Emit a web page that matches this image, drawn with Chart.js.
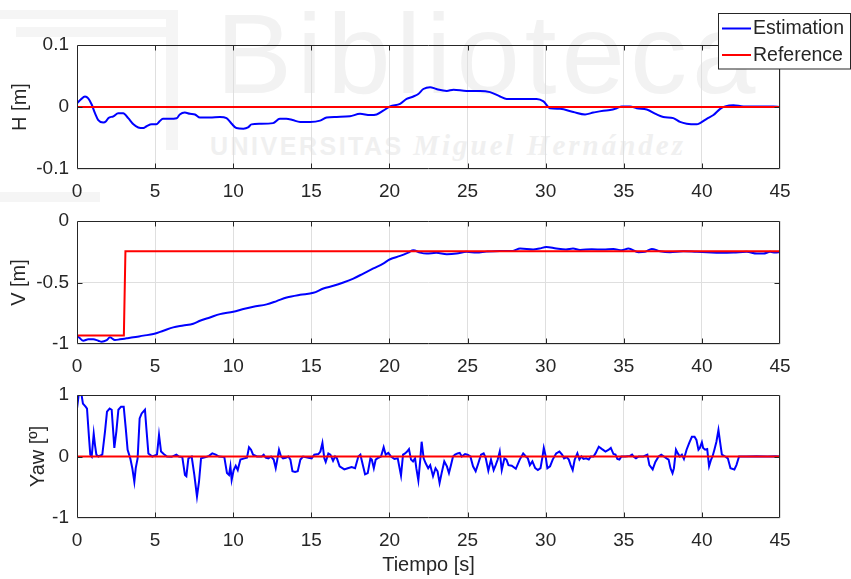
<!DOCTYPE html>
<html>
<head>
<meta charset="utf-8">
<script src="https://cdn.jsdelivr.net/npm/chart.js@4.4.1/dist/chart.umd.min.js"></script>
<style>
html,body{margin:0;padding:0;background:#fff;}
#wrap{position:relative;width:851px;height:579px;overflow:hidden;background:#fff;}
canvas{position:absolute;left:0;top:0;}
.wm{position:absolute;color:#f2f2f2;font-family:"Liberation Sans",Arial,sans-serif;white-space:nowrap;}
.bar{position:absolute;background:#f5f5f5;}
</style>
</head>
<body>
<div id="wrap">
  <div class="bar" style="left:0;top:10px;width:178px;height:9px;"></div>
  <div class="bar" style="left:16px;top:27px;width:162px;height:10px;"></div>
  <div class="bar" style="left:166px;top:10px;width:12px;height:140px;"></div>
  <div class="bar" style="left:0;top:192px;width:100px;height:10px;"></div>
  <div class="wm" style="left:216px;top:-3px;font-size:114px;line-height:114px;letter-spacing:5px;">Biblioteca</div>
  <div class="wm" style="left:210px;top:130px;font-size:25px;line-height:30px;font-weight:bold;letter-spacing:2.5px;color:#f0f0f0;">UNIVERSITAS <span style="font-family:'Liberation Serif',serif;font-style:italic;font-size:29px;letter-spacing:3px;">Miguel Hernández</span></div>
  <canvas id="c1" width="851" height="579" style="width:851px;height:579px;"></canvas>
  <canvas id="c2" width="851" height="579" style="width:851px;height:579px;"></canvas>
  <canvas id="c3" width="851" height="579" style="width:851px;height:579px;"></canvas>
</div>
<script>
// ---------------- DATA ----------------
const timeTicks = [0, 5, 10, 15, 20, 25, 30, 35, 40, 45];
const hTicks = [-0.1, 0, 0.1];
const vTicks = [-1, -0.5, 0];
const yawTicks = [-1, 0, 1];
const seriesNames = ['Estimation', 'Reference'];
const axisTitles = ['H [m]', 'V [m]', 'Yaw [º]'];
const timeTitle = 'Tiempo [s]';

// H [m] estimation: [time, value]
const hEstimation = [
  [0,0.006],[0.24,0.012],[0.51,0.017],[0.72,0.014],[0.94,0.004],[1.15,-0.010],[1.36,-0.021],[1.68,-0.025],
  [1.86,-0.023],[2.0,-0.018],[2.33,-0.015],[2.64,-0.010],[2.96,-0.010],[3.28,-0.018],[3.61,-0.028],[3.92,-0.033],
  [4.25,-0.034],[4.46,-0.031],[4.78,-0.028],[5.08,-0.028],[5.29,-0.023],[5.5,-0.019],[5.93,-0.019],[6.38,-0.018],
  [6.58,-0.012],[6.9,-0.009],[7.23,-0.011],[7.55,-0.012],[7.87,-0.017],[8.51,-0.017],[9.15,-0.016],[9.57,-0.018],
  [9.9,-0.027],[10.2,-0.034],[10.65,-0.035],[10.95,-0.033],[11.17,-0.028],[11.7,-0.027],[12.55,-0.026],[12.98,-0.019],
  [13.4,-0.019],[13.8,-0.021],[14.28,-0.024],[14.92,-0.024],[15.56,-0.022],[15.98,-0.017],[16.62,-0.016],[17.47,-0.015],
  [18.12,-0.011],[18.76,-0.013],[19.18,-0.012],[19.6,-0.006],[20.04,0.001],[20.68,0.005],[21.1,0.013],[21.53,0.017],
  [21.85,0.021],[22.17,0.029],[22.6,0.032],[23.0,0.029],[23.67,0.026],[24.1,0.028],[24.93,0.026],[25.8,0.026],
  [26.44,0.024],[27.08,0.017],[27.5,0.013],[28.36,0.013],[29.43,0.013],[29.86,0.009],[30.28,-0.002],[30.92,-0.003],
  [31.77,-0.008],[32.52,-0.012],[33.05,-0.009],[33.69,-0.006],[34.12,-0.005],[34.55,-0.002],[34.87,0.001],[35.4,0.001],
  [35.83,-0.002],[36.47,-0.004],[37.11,-0.012],[37.53,-0.016],[38.17,-0.018],[38.6,-0.024],[39.03,-0.027],[39.67,-0.028],
  [39.88,-0.026],[40.31,-0.019],[40.74,-0.013],[41.17,-0.003],[41.49,0.001],[42.02,0.003],[42.66,0.001],[43.73,0.001],
  [44.58,0.001],[45,0.0]
];
const hReference = [[0,0],[45,0]];

// V [m] estimation
const vEstimation = [
  [0,-0.93],[0.19,-0.954],[0.4,-0.973],[0.72,-0.962],[1.04,-0.962],[1.36,-0.973],[1.58,-0.981],[1.9,-0.968],
  [2.11,-0.946],[2.43,-0.968],[2.75,-0.962],[3.18,-0.954],[3.61,-0.946],[4.25,-0.932],[4.89,-0.919],[5.53,-0.892],
  [6.16,-0.865],[6.8,-0.85],[7.44,-0.835],[7.87,-0.811],[8.51,-0.784],[9.15,-0.757],[10.0,-0.738],[10.65,-0.716],
  [11.29,-0.697],[12.14,-0.678],[12.78,-0.651],[13.42,-0.622],[14.28,-0.60],[15.13,-0.584],[15.77,-0.549],[16.41,-0.527],
  [17.05,-0.5],[17.69,-0.468],[18.33,-0.427],[18.97,-0.386],[19.6,-0.346],[20.04,-0.311],[20.68,-0.284],[21.2,-0.257],
  [21.53,-0.238],[21.96,-0.257],[22.38,-0.265],[23.0,-0.259],[23.67,-0.27],[24.3,-0.265],[24.93,-0.251],[25.58,-0.257],
  [26.2,-0.249],[27.08,-0.243],[27.9,-0.243],[28.36,-0.224],[29.2,-0.232],[29.6,-0.224],[30.04,-0.211],[30.68,-0.224],
  [31.3,-0.232],[31.75,-0.224],[32.2,-0.235],[32.95,-0.23],[33.69,-0.232],[34.33,-0.227],[34.87,-0.238],[35.3,-0.224],
  [35.94,-0.254],[36.36,-0.251],[36.79,-0.227],[37.32,-0.246],[37.96,-0.254],[38.81,-0.246],[39.67,-0.251],[40.31,-0.254],
  [41.17,-0.259],[42.02,-0.257],[42.87,-0.251],[43.52,-0.265],[43.94,-0.265],[44.37,-0.251],[44.69,-0.257],[45,-0.251]
];
const vReference = [[0,-0.93],[3.0,-0.93],[3.1,-0.245],[45,-0.245]];

// Yaw [º] estimation
const yawEstimation = [
  [0,0.78],[0.13,1.05],[0.26,1.05],[0.38,0.86],[0.55,0.81],[0.64,0.78],[0.77,0.30],[0.85,0.03],[0.94,0],[1.07,0.37],
  [1.15,0.19],[1.24,0.03],[1.37,0],[1.62,0.03],[1.79,0.4],[1.92,0.73],[2.09,0.78],[2.22,0.76],[2.39,0.14],[2.52,0.41],
  [2.65,0.76],[2.82,0.81],[2.99,0.81],[3.12,0.46],[3.24,0.11],[3.41,-0.03],[3.54,-0.19],[3.67,-0.41],[3.76,-0.19],[3.88,-0.03],
  [4.01,0.62],[4.14,0.70],[4.35,0.76],[4.44,0.46],[4.57,0.05],[4.82,0],[5.12,0.03],[5.25,0.35],[5.38,0.08],[5.55,0.04],
  [5.76,0],[6.06,-0.005],[6.36,0.03],[6.53,0],[6.74,-0.01],[6.91,-0.30],[7.0,-0.32],[7.13,-0.03],[7.34,0],[7.51,-0.3],
  [7.68,-0.65],[7.81,-0.41],[7.94,-0.03],[8.24,-0.01],[8.45,0.01],[8.66,0.05],[8.88,0.03],[9.09,0],[9.43,-0.01],[9.6,-0.27],
  [9.73,-0.30],[9.82,-0.16],[9.9,-0.38],[10.03,-0.22],[10.16,-0.15],[10.29,-0.22],[10.46,-0.05],[10.71,-0.03],[10.88,-0.02],[11.01,0.15],
  [11.14,0.11],[11.27,0.03],[11.52,0],[11.82,0],[11.95,0.03],[12.08,-0.02],[12.25,-0.03],[12.42,0],[12.59,-0.05],[12.72,-0.19],
  [12.8,-0.08],[12.93,0.11],[13.06,0],[13.19,-0.03],[13.36,-0.02],[13.53,0],[13.66,-0.05],[13.79,-0.24],[13.96,-0.25],[14.13,-0.24],
  [14.3,-0.05],[14.47,0],[14.81,-0.02],[15.02,-0.03],[15.19,0.03],[15.45,0.04],[15.58,0.08],[15.71,0.22],[15.83,-0.03],[15.92,-0.09],
  [16.09,0.05],[16.22,0.03],[16.39,-0.07],[16.52,0],[16.64,-0.03],[16.81,-0.16],[17.11,-0.21],[17.33,-0.19],[17.58,-0.17],[17.8,-0.19],
  [18.01,0],[18.14,0.03],[18.27,-0.11],[18.44,-0.29],[18.61,-0.27],[18.78,-0.03],[18.87,-0.05],[19.0,-0.19],[19.12,-0.05],[19.29,-0.02],
  [19.46,0],[19.63,0.15],[19.76,0.03],[19.93,0.06],[20.1,0],[20.32,-0.04],[20.53,-0.03],[20.74,-0.31],[20.87,0.03],[21.0,0.05],
  [21.13,0.08],[21.25,0.12],[21.38,-0.05],[21.51,-0.08],[21.64,-0.03],[21.72,-0.19],[21.85,-0.39],[21.98,-0.03],[22.06,0.24],[22.19,-0.03],
  [22.32,-0.11],[22.48,-0.19],[22.61,-0.14],[22.79,-0.32],[22.95,-0.19],[23.08,-0.24],[23.21,-0.43],[23.34,-0.27],[23.51,-0.08],[23.68,-0.16],
  [23.81,-0.27],[23.94,-0.14],[24.07,0],[24.2,0.03],[24.36,0.05],[24.5,0.06],[24.63,0],[24.84,0.04],[25.0,0.03],[25.18,0],
  [25.35,-0.16],[25.52,-0.24],[25.69,-0.11],[25.86,0.03],[26.03,0.05],[26.16,-0.02],[26.33,-0.23],[26.5,-0.05],[26.67,-0.22],[26.8,-0.14],
  [26.93,-0.05],[27.06,0.08],[27.19,-0.22],[27.36,-0.03],[27.49,-0.05],[27.62,-0.14],[27.83,-0.15],[28.09,-0.2],[28.34,-0.05],[28.56,0.05],
  [28.73,0],[28.86,-0.03],[28.99,-0.14],[29.15,-0.08],[29.33,-0.19],[29.5,-0.22],[29.67,-0.19],[29.8,0],[29.88,0.14],[29.98,0.03],
  [30.11,-0.19],[30.28,-0.16],[30.45,-0.05],[30.67,0.05],[30.88,0.08],[31.05,0.03],[31.18,-0.03],[31.35,-0.01],[31.48,-0.05],[31.6,-0.14],
  [31.73,-0.22],[31.86,-0.05],[32.03,0.05],[32.16,-0.05],[32.29,0],[32.42,-0.04],[32.59,-0.03],[32.76,-0.05],[32.89,0],[33.06,0],
  [33.19,0.05],[33.4,0.16],[33.61,0.12],[33.83,0.08],[34.04,0.11],[34.17,0.14],[34.34,0.04],[34.47,0.03],[34.59,-0.04],[34.72,-0.05],
  [34.85,0],[35.1,0],[35.4,0.01],[35.53,0.03],[35.66,-0.01],[35.78,-0.03],[35.96,0],[36.26,0],[36.51,0.03],[36.64,-0.14],
  [36.85,-0.21],[37.02,-0.09],[37.23,0],[37.4,0.03],[37.57,0],[37.74,-0.03],[37.87,-0.05],[37.99,-0.19],[38.12,-0.27],[38.21,-0.19],
  [38.34,0.11],[38.46,0.05],[38.59,0],[38.72,0.03],[38.85,-0.04],[39.02,0.11],[39.19,0.22],[39.36,0.32],[39.53,0.32],[39.65,0.27],
  [39.78,0.11],[39.87,0.14],[40.0,0.23],[40.08,0.14],[40.21,0.11],[40.34,0.12],[40.46,-0.16],[40.59,-0.05],[40.68,0],[40.8,0.11],
  [40.93,0.24],[41.06,0.43],[41.19,0.19],[41.28,0.03],[41.49,0],[41.66,-0.03],[41.83,-0.19],[42.08,-0.21],[42.21,-0.14],[42.38,0],
  [42.85,0],[43.5,0.005],[44.2,0],[44.7,0.005],[45,0]
];
const yawReference = [[0,0],[45,0]];

// ---------------- STYLE ----------------
const FONT = "'Liberation Sans', Arial, Helvetica, sans-serif";
const AXIS_COLOR = '#262626';
const GRID_COLOR = '#dfdfdf';
const BLUE = '#0000ff';
const RED = '#ff0000';
const W = 851, H = 579;

const toXY = arr => arr.map(p => ({x: p[0], y: p[1]}));

const axesPlugin = {
  id: 'matlabAxes',
  afterDraw(chart) {
    const {ctx, chartArea: a, scales} = chart;
    const L = Math.round(a.left) + 0.5, R = Math.round(a.right) - 0.5;
    const T = Math.round(a.top) + 0.5, B = Math.round(a.bottom) - 0.5;
    ctx.save();
    ctx.strokeStyle = AXIS_COLOR;
    ctx.lineWidth = 1;
    ctx.beginPath();
    ctx.rect(L, T, R - L, B - T);
    ctx.stroke();
    const tl = 5;
    ctx.beginPath();
    scales.x.ticks.forEach(t => {
      const px = Math.round(scales.x.getPixelForValue(t.value)) + 0.5;
      if (px <= L + 1 || px >= R - 1) return;
      ctx.moveTo(px, B); ctx.lineTo(px, B - tl);
      ctx.moveTo(px, T); ctx.lineTo(px, T + tl);
    });
    scales.y.ticks.forEach(t => {
      const py = Math.round(scales.y.getPixelForValue(t.value)) + 0.5;
      if (py <= T + 1 || py >= B - 1) return;
      ctx.moveTo(L, py); ctx.lineTo(L + tl, py);
      ctx.moveTo(R, py); ctx.lineTo(R - tl, py);
    });
    ctx.stroke();
    ctx.restore();
  }
};

const legendPlugin = {
  id: 'matlabLegend',
  afterDraw(chart) {
    if (!chart.options.plugins.matlabLegend || !chart.options.plugins.matlabLegend.show) return;
    const ctx = chart.ctx;
    ctx.save();
    ctx.fillStyle = '#ffffff';
    ctx.fillRect(718.5, 13.5, 132, 55.5);
    ctx.strokeStyle = AXIS_COLOR;
    ctx.lineWidth = 1;
    ctx.strokeRect(718.5, 13.5, 132, 55.5);
    const items = [[seriesNames[0], BLUE, 28.5], [seriesNames[1], RED, 55]];
    ctx.font = '19.5px ' + FONT;
    ctx.textBaseline = 'middle';
    ctx.textAlign = 'left';
    items.forEach(([label, color, y]) => {
      ctx.strokeStyle = color;
      ctx.lineWidth = 2;
      ctx.beginPath();
      ctx.moveTo(722, y); ctx.lineTo(751, y);
      ctx.stroke();
      ctx.fillStyle = AXIS_COLOR;
      ctx.fillText(label, 753, y + 0.5);
    });
    ctx.restore();
  }
};

function makeChart(id, est, ref, o) {
  return new Chart(document.getElementById(id), {
    type: 'line',
    data: {
      datasets: [
        {label: seriesNames[1], data: toXY(ref), borderColor: RED, borderWidth: 2, pointRadius: 0, tension: 0, order: 0},
        {label: seriesNames[0], data: toXY(est), borderColor: BLUE, borderWidth: 2, pointRadius: 0,
         tension: o.tension, cubicInterpolationMode: o.tension ? 'monotone' : 'default', order: 1}
      ]
    },
    options: {
      responsive: false,
      animation: false,
      devicePixelRatio: 1,
      events: [],
      layout: {padding: {top: o.top, right: W - 780, left: 0, bottom: 0}},
      plugins: {legend: {display: false}, tooltip: {enabled: false}, matlabLegend: {show: !!o.legend}},
      scales: {
        x: {
          type: 'linear', min: 0, max: 45,
          afterBuildTicks: s => { s.ticks = timeTicks.map(v => ({value: v})); },
          afterFit: s => { s.height = H - o.bottom; },
          grid: {color: GRID_COLOR, lineWidth: 1, drawTicks: false},
          border: {display: false},
          ticks: {color: AXIS_COLOR, font: {family: FONT, size: 19}, padding: 11, maxRotation: 0, autoSkip: false,
                  callback: v => String(v)},
          title: {display: !!o.xTitle, text: timeTitle, color: AXIS_COLOR, font: {family: FONT, size: 20},
                  padding: {top: 0, bottom: 2}}
        },
        y: {
          type: 'linear', min: o.yMin, max: o.yMax,
          afterBuildTicks: s => { s.ticks = o.yTicks.map(v => ({value: v})); },
          afterFit: s => { s.width = 77; },
          grid: {color: GRID_COLOR, lineWidth: 1, drawTicks: false},
          border: {display: false},
          ticks: {color: AXIS_COLOR, font: {family: FONT, size: 19}, padding: 8, autoSkip: false,
                  callback: v => String(v)},
          title: {display: true, text: o.yTitle, color: AXIS_COLOR, font: {family: FONT, size: 20},
                  padding: {top: o.titlePad, bottom: 0}}
        }
      }
    },
    plugins: [axesPlugin, legendPlugin]
  });
}

makeChart('c1', hEstimation, hReference,
  {yMin: -0.1, yMax: 0.1, yTicks: hTicks, yTitle: axisTitles[0], top: 45, bottom: 169, titlePad: 8, tension: 0.3, legend: true});
makeChart('c2', vEstimation, vReference,
  {yMin: -1, yMax: 0, yTicks: vTicks, yTitle: axisTitles[1], top: 221, bottom: 344, titlePad: 7, tension: 0.3});
makeChart('c3', yawEstimation, yawReference,
  {yMin: -1, yMax: 1, yTicks: yawTicks, yTitle: axisTitles[2], top: 395, bottom: 518, titlePad: 26, tension: 0, xTitle: true});
</script>
</body>
</html>
